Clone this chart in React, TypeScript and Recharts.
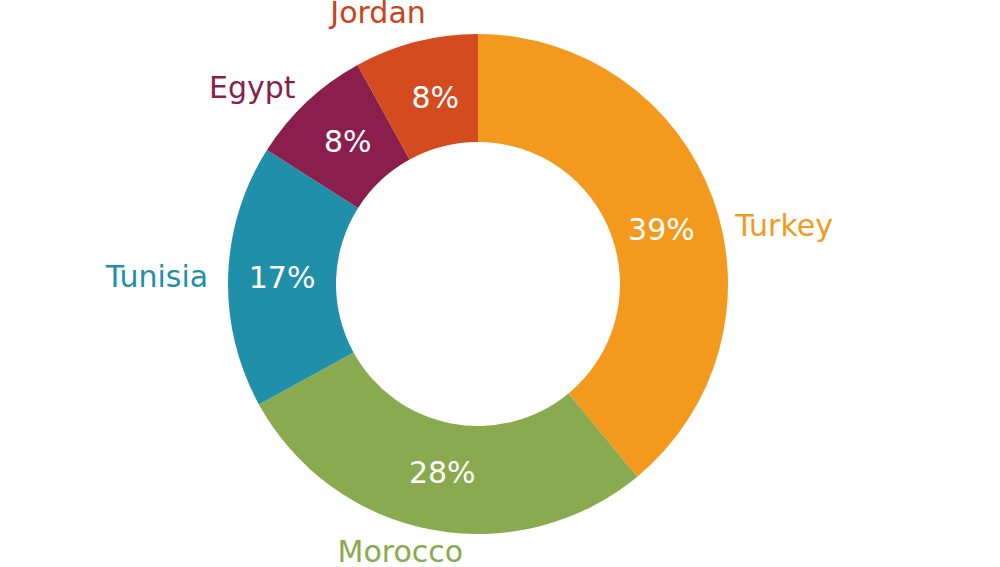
import React from 'react';
import { PieChart, Pie, Cell } from 'recharts';

const categories = ['Turkey', 'Morocco', 'Tunisia', 'Egypt', 'Jordan'];
const shares = [39, 28, 17, 8, 8];
const sliceColors = ['#F39A1E', '#89AA4E', '#1F8FAA', '#8A1F4D', '#D34B1F'];
const labelColors = ['#F39A1E', '#89AA4E', '#1F8FAA', '#8A1F4D', '#C9431C'];

const data = categories.map((name, i) => ({ name, value: shares[i] }));

const RADIAN = Math.PI / 180;
const FONT = '"DejaVu Sans", sans-serif';

// layout tweaks (label placement only)
const pctNudge: Record<string, [number, number]> = {
  Turkey: [-1, 11],
  Morocco: [1, -5],
  Tunisia: [0, -1],
  Egypt: [4, 0],
  Jordan: [6, 3],
};
const nameLayout: Record<string, { dx: number; dy: number; anchor: 'start' | 'middle' | 'end' }> = {
  Turkey: { dx: 8, dy: 42, anchor: 'start' },
  Morocco: { dx: -28, dy: 18, anchor: 'middle' },
  Tunisia: { dx: -5, dy: 11, anchor: 'end' },
  Egypt: { dx: -1, dy: 7, anchor: 'end' },
  Jordan: { dx: -34, dy: -4, anchor: 'middle' },
};

const renderLabel = (props: any) => {
  const { cx, cy, midAngle, innerRadius, outerRadius, index, name, value } = props;
  const cos = Math.cos(-midAngle * RADIAN);
  const sin = Math.sin(-midAngle * RADIAN);
  const rMid = (innerRadius + outerRadius) / 2;
  const [pnx, pny] = pctNudge[name] || [0, 0];
  const px = cx + rMid * cos + pnx;
  const py = cy + rMid * sin + 11 + pny;
  const rOut = outerRadius + 15;
  const nl = nameLayout[name] || { dx: 0, dy: 0, anchor: 'middle' };
  const ox = cx + rOut * cos + nl.dx;
  const oy = cy + rOut * sin + nl.dy;
  return (
    <g>
      <text x={px} y={py} textAnchor="middle" fill="#ffffff" fontFamily={FONT} fontSize={30}>
        {`${value}%`}
      </text>
      <text x={ox} y={oy} textAnchor={nl.anchor} fill={labelColors[index]} fontFamily={FONT} fontSize={30}>
        {name}
      </text>
    </g>
  );
};

export default function App() {
  return (
    <div style={{ position: 'absolute', left: 0, top: 0, width: 1000, height: 567, background: '#ffffff' }}>
      <PieChart width={1000} height={567} margin={{ top: 0, right: 0, bottom: 0, left: 0 }}>
        <Pie
          data={data}
          dataKey="value"
          nameKey="name"
          cx={478}
          cy={284}
          innerRadius={142}
          outerRadius={250}
          startAngle={90}
          endAngle={-270}
          stroke="none"
          label={renderLabel}
          labelLine={false}
          isAnimationActive={false}
        >
          {data.map((d, i) => (
            <Cell key={d.name} fill={sliceColors[i]} />
          ))}
        </Pie>
      </PieChart>
    </div>
  );
}
